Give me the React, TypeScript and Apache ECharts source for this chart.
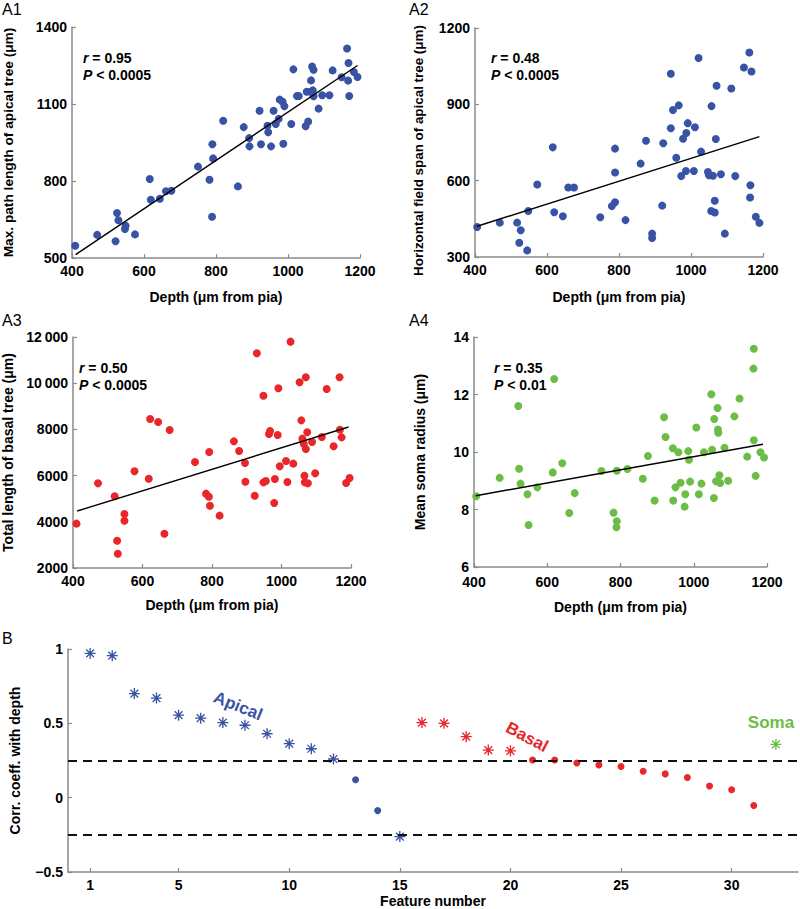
import React, { useEffect, useRef } from "react";
import * as echarts from "echarts";

// ---------- Data ----------
const depthTicks = [400, 600, 800, 1000, 1200];

const a1Points: [number, number][] = [
  [409, 548], [470, 590], [521, 565], [525, 675], [529, 647], [549, 626], [547, 613], [575, 592],
  [616, 808], [619, 727], [644, 731], [661, 760], [676, 762], [750, 856], [782, 805], [789, 661],
  [790, 943], [792, 888], [820, 1035], [861, 779], [877, 1010], [892, 967], [893, 935], [921, 1074],
  [925, 943], [943, 1015], [945, 990], [953, 935], [960, 1074], [966, 1022], [974, 1042], [977, 1117],
  [985, 1109], [987, 945], [990, 1091], [1009, 1022], [1015, 1235], [1025, 1131], [1030, 1131],
  [1049, 1013], [1052, 1148], [1056, 1032], [1063, 1148], [1064, 1192], [1067, 1246], [1071, 1233],
  [1071, 1130], [1069, 1153], [1085, 1082], [1095, 1134], [1115, 1134], [1124, 1231], [1149, 1204],
  [1164, 1316], [1168, 1260], [1167, 1191], [1170, 1131], [1183, 1225], [1193, 1205],
];
const a1Fit: [number, number][] = [[410, 513], [1193, 1250]];
const a1YTicks = [500, 800, 1100, 1400];

const a2Points: [number, number][] = [
  [406, 418], [469, 435], [517, 435], [527, 405], [523, 356], [545, 326], [548, 481], [573, 585],
  [616, 731], [620, 476], [644, 460], [659, 573], [675, 573], [748, 456], [780, 500], [789, 515],
  [789, 632], [789, 726], [818, 445], [860, 667], [875, 757], [892, 392], [892, 375], [920, 502],
  [923, 747], [944, 806], [944, 1020], [950, 878], [959, 690], [966, 896], [973, 618], [978, 765],
  [986, 638], [987, 787], [991, 826], [1008, 638], [1011, 810], [1021, 1082], [1028, 714],
  [1047, 634], [1050, 621], [1056, 481], [1057, 893], [1061, 619], [1066, 475], [1066, 521],
  [1069, 764], [1071, 973], [1083, 625], [1094, 392], [1112, 962], [1123, 618], [1147, 1045],
  [1162, 1104], [1165, 582], [1164, 534], [1168, 1029], [1180, 458], [1190, 434],
];
const a2Fit: [number, number][] = [[406, 421], [1190, 773]];
const a2YTicks = [300, 600, 900, 1200];

const a3Points: [number, number][] = [
  [410, 3920], [472, 5665], [520, 5103], [527, 3183], [529, 2620], [548, 4338], [548, 4049],
  [577, 6185], [618, 5867], [622, 8450], [645, 8320], [663, 3486], [678, 7974], [751, 6589],
  [783, 5218], [791, 5088], [792, 7022], [794, 4698], [822, 4266], [863, 7483], [878, 7065],
  [895, 6545], [896, 5737], [923, 5131], [929, 11293], [948, 5708], [955, 5766], [948, 9460],
  [964, 7801], [967, 7931], [979, 4814], [981, 5853], [989, 7758], [991, 9778], [995, 6401],
  [1013, 6632], [1017, 5723], [1026, 11798], [1034, 6517], [1052, 10038], [1057, 8392],
  [1060, 7599], [1064, 7382], [1066, 5997], [1067, 5708], [1070, 10254], [1070, 7151],
  [1074, 7873], [1076, 5665], [1088, 7454], [1097, 6098], [1116, 7671], [1130, 9749],
  [1150, 7267], [1167, 10254], [1168, 7988], [1173, 7656], [1186, 5680], [1196, 5896],
];
const a3Fit: [number, number][] = [[412, 4467], [1193, 8104]];
const a3YTicks = [2000, 4000, 6000, 8000, 10000, 12000];

const a4Points: [number, number][] = [
  [406, 8.46], [470, 9.1], [521, 11.6], [523, 9.42], [527, 8.9], [546, 8.53], [549, 7.46],
  [573, 8.77], [615, 9.29], [619, 12.54], [641, 9.61], [660, 7.88], [675, 8.57], [748, 9.34],
  [781, 7.89], [790, 7.59], [789, 7.38], [790, 9.35], [819, 9.41], [861, 9.07], [875, 9.86],
  [893, 8.31], [919, 11.21], [923, 10.52], [943, 10.13], [944, 8.31], [950, 8.77], [958, 9.99],
  [964, 8.93], [975, 8.1], [977, 8.53], [985, 10.03], [987, 9.73], [990, 8.97], [1007, 10.85],
  [1014, 8.53], [1021, 8.9], [1028, 9.99], [1048, 12.01], [1050, 10.08], [1055, 8.4],
  [1056, 11.15], [1061, 8.98], [1065, 11.53], [1066, 10.78], [1067, 10.67], [1070, 9.19],
  [1072, 8.92], [1084, 10.15], [1094, 9.0], [1111, 11.24], [1125, 11.86], [1146, 9.84],
  [1164, 13.59], [1163, 12.9], [1164, 10.41], [1169, 9.17], [1182, 9.99], [1192, 9.81],
];
const a4Fit: [number, number][] = [[405, 8.48], [1189, 10.27]];
const a4YTicks = [6, 8, 10, 12, 14];

// Panel B: correlation coefficient with depth per feature
const apicalSig: [number, number][] = [
  [1, 0.97], [2, 0.955], [3, 0.7], [4, 0.67], [5, 0.555], [6, 0.535], [7, 0.505], [8, 0.487],
  [9, 0.43], [10, 0.363], [11, 0.329], [12, 0.26], [15, -0.262],
];
const apicalNS: [number, number][] = [[13, 0.12], [14, -0.087]];
const basalSig: [number, number][] = [[16, 0.505], [17, 0.5], [18, 0.41], [19, 0.32], [20, 0.315]];
const basalNS: [number, number][] = [
  [21, 0.253], [22, 0.253], [23, 0.233], [24, 0.22], [25, 0.21], [26, 0.178], [27, 0.16],
  [28, 0.136], [29, 0.078], [30, 0.053], [31, -0.053],
];
const somaSig: [number, number][] = [[32, 0.358]];
const thresholds = [0.25, -0.25];
const featureTicks = [1, 5, 10, 15, 20, 25, 30];
const corrTicks = [-0.5, 0, 0.5, 1];

// ---------- Style ----------
const FONT = "'Liberation Sans', Arial, Helvetica, sans-serif";
const BLUE = "#3953a4";
const RED = "#e8262b";
const GREEN = "#6cbd45";
const AXIS = "#8a8a8a";
const STAR =
  "path://M-10,-1.2L10,-1.2L10,1.2L-10,1.2Z M-1.2,-10L1.2,-10L1.2,10L-1.2,10Z M-6.2,-7.9L7.9,6.2L6.2,7.9L-7.9,-6.2Z M6.2,-7.9L7.9,-6.2L-6.2,7.9L-7.9,6.2Z";

const plain = (v: number) => String(v);

function valueAxis(gridIndex: number, opts: any) {
  const { axisLabel, nameTextStyle, ...rest } = opts;
  return {
    type: "value",
    gridIndex,
    scale: true,
    axisLine: { show: true, onZero: false, lineStyle: { color: AXIS, width: 1.5 } },
    axisTick: { show: true, inside: true, length: 4, lineStyle: { color: AXIS, width: 1.2 } },
    splitLine: { show: false },
    nameLocation: "middle",
    ...rest,
    axisLabel: { color: "#000", fontWeight: "bold", fontSize: 14, fontFamily: FONT, formatter: plain, ...(axisLabel || {}) },
    nameTextStyle: { color: "#000", fontWeight: "bold", fontSize: 14, fontFamily: FONT, ...(nameTextStyle || {}) },
  };
}

function depthAxis(gridIndex: number, nameGap: number, margin = 6) {
  return valueAxis(gridIndex, {
    min: 400,
    max: 1200,
    interval: 200,
    name: "Depth (μm from pia)",
    nameGap,
    axisLabel: { customValues: depthTicks, margin },
  });
}

function scatter(idx: number, data: [number, number][], color: string) {
  return {
    type: "scatter",
    xAxisIndex: idx,
    yAxisIndex: idx,
    data,
    symbolSize: 8,
    itemStyle: { color, opacity: 1 },
    z: 3,
  };
}

function fit(idx: number, data: [number, number][]) {
  return {
    type: "line",
    xAxisIndex: idx,
    yAxisIndex: idx,
    data,
    showSymbol: false,
    symbol: "none",
    lineStyle: { color: "#000", width: 1.4 },
    z: 4,
  };
}

function label(text: string, x: number, y: number) {
  return {
    type: "text",
    x,
    y,
    style: { text, fill: "#000", font: `16px ${FONT}`, align: "left", verticalAlign: "middle" },
  };
}

function stat(x: number, y: number, r: string, p: string) {
  const rich = {
    i: { fontStyle: "italic", fontWeight: "bold", fontSize: 14, fontFamily: FONT, fill: "#000" },
    b: { fontWeight: "bold", fontSize: 14, fontFamily: FONT, fill: "#000" },
  };
  return [
    {
      type: "text",
      x,
      y,
      style: { text: `{i|r}{b| = ${r}}`, rich, align: "left", verticalAlign: "middle", fill: "#000", font: `bold 14px ${FONT}` },
    },
    {
      type: "text",
      x,
      y: y + 17,
      style: { text: `{i|P}{b| < ${p}}`, rich, align: "left", verticalAlign: "middle", fill: "#000", font: `bold 14px ${FONT}` },
    },
  ];
}

function groupLabel(text: string, x: number, y: number, color: string, deg: number) {
  return {
    type: "text",
    x,
    y,
    rotation: (deg * Math.PI) / 180,
    style: { text, fill: color, font: `bold 17px ${FONT}`, align: "center", verticalAlign: "middle" },
  };
}

export default function App() {
  const ref = useRef<HTMLDivElement>(null);

  useEffect(() => {
    if (!ref.current) return;
    const chart = echarts.init(ref.current, undefined, { renderer: "svg" });

    const option: any = {
      animation: false,
      backgroundColor: "#fff",
      grid: [
        { left: 72, top: 27, width: 288, height: 231 },
        { left: 475, top: 28, width: 288, height: 229 },
        { left: 72, top: 337, width: 279, height: 231 },
        { left: 474, top: 337, width: 293, height: 230 },
        { left: 60, top: 649, width: 738, height: 225 },
      ],
      xAxis: [
        depthAxis(0, 32),
        depthAxis(1, 33),
        depthAxis(2, 30),
        depthAxis(3, 33, 8),
        valueAxis(4, {
          min: 0,
          max: 33,
          name: "Feature number",
          nameGap: 22,
          axisLabel: { customValues: featureTicks, margin: 6 },
          axisTick: { show: true, inside: true, length: 4, customValues: featureTicks, lineStyle: { color: AXIS, width: 1.2 } },
        }),
      ],
      yAxis: [
        valueAxis(0, {
          min: 500,
          max: 1400,
          name: "Max. path length of apical tree (μm)",
          nameGap: 57,
          nameTextStyle: { fontSize: 13.7 },
          axisLabel: { customValues: a1YTicks, margin: 5 },
          axisTick: { show: true, inside: true, length: 4, customValues: a1YTicks, lineStyle: { color: AXIS, width: 1.2 } },
        }),
        valueAxis(1, {
          min: 300,
          max: 1200,
          interval: 300,
          name: "Horizontal field span of apical tree (μm)",
          nameGap: 50,
          nameTextStyle: { fontSize: 13.4, padding: [0, 16, 0, 0] },
          axisLabel: { customValues: a2YTicks, margin: 5 },
        }),
        valueAxis(2, {
          min: 2000,
          max: 12000,
          interval: 2000,
          name: "Total length of basal tree (μm)",
          nameGap: 58,
          axisLabel: {
            customValues: a3YTicks,
            margin: 5,
            formatter: (v: number) => (v >= 10000 ? `${Math.floor(v / 1000)}\u2009${String(v % 1000).padStart(3, "0")}` : String(v)),
          },
        }),
        valueAxis(3, {
          min: 6,
          max: 14,
          interval: 2,
          name: "Mean soma radius (μm)",
          nameGap: 47,
          axisLabel: { customValues: a4YTicks, margin: 5 },
        }),
        valueAxis(4, {
          min: -0.5,
          max: 1,
          interval: 0.5,
          name: "Corr. coeff. with depth",
          nameGap: 46,
          axisLabel: {
            customValues: corrTicks,
            margin: 5,
            formatter: (v: number) => (v < 0 ? `\u2212${Math.abs(v)}` : String(v)),
          },
        }),
      ],
      series: [
        scatter(0, a1Points, BLUE),
        fit(0, a1Fit),
        scatter(1, a2Points, BLUE),
        fit(1, a2Fit),
        scatter(2, a3Points, RED),
        fit(2, a3Fit),
        scatter(3, a4Points, GREEN),
        fit(3, a4Fit),
        {
          type: "scatter",
          xAxisIndex: 4,
          yAxisIndex: 4,
          data: [],
          markLine: {
            silent: true,
            symbol: "none",
            label: { show: false },
            lineStyle: { color: "#111", width: 2, type: [9, 6] },
            data: thresholds.map((t) => ({ yAxis: t })),
          },
          z: 2,
        },
        { type: "scatter", xAxisIndex: 4, yAxisIndex: 4, data: apicalSig, symbol: STAR, symbolSize: 11, itemStyle: { color: BLUE, opacity: 1 }, z: 3 },
        { type: "scatter", xAxisIndex: 4, yAxisIndex: 4, data: apicalNS, symbolSize: 7, itemStyle: { color: BLUE, opacity: 1 }, z: 3 },
        { type: "scatter", xAxisIndex: 4, yAxisIndex: 4, data: basalSig, symbol: STAR, symbolSize: 11, itemStyle: { color: RED, opacity: 1 }, z: 3 },
        { type: "scatter", xAxisIndex: 4, yAxisIndex: 4, data: basalNS, symbolSize: 7, itemStyle: { color: RED, opacity: 1 }, z: 3 },
        { type: "scatter", xAxisIndex: 4, yAxisIndex: 4, data: somaSig, symbol: STAR, symbolSize: 11, itemStyle: { color: GREEN, opacity: 1 }, z: 3 },
      ],
      graphic: [
        label("A1", 2, 9),
        label("A2", 409, 9),
        label("A3", 2, 320),
        label("A4", 409, 320),
        label("B", 2, 638),
        ...stat(83, 58, "0.95", "0.0005"),
        ...stat(491, 58, "0.48", "0.0005"),
        ...stat(79, 368, "0.50", "0.0005"),
        ...stat(494, 368, "0.35", "0.01"),
        groupLabel("Apical", 238, 706, BLUE, -22),
        groupLabel("Basal", 527, 737, RED, -28),
        groupLabel("Soma", 771, 722, GREEN, 0),
      ],
    };

    chart.setOption(option);
    return () => chart.dispose();
  }, []);

  return <div ref={ref} style={{ position: "fixed", left: 0, top: 0, width: 800, height: 909 }} />;
}
